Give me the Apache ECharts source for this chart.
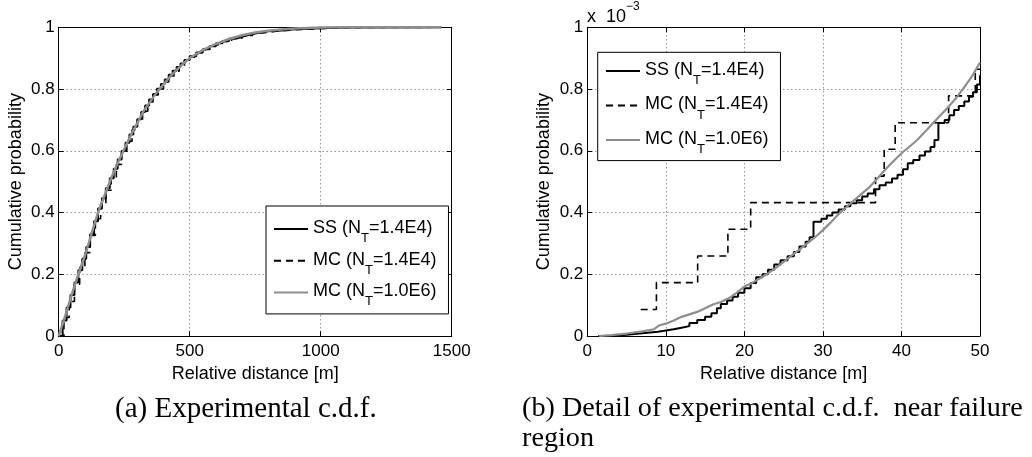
<!DOCTYPE html>
<html>
<head>
<meta charset="utf-8">
<script src="https://cdn.jsdelivr.net/npm/echarts@6/dist/echarts.min.js"></script>
<style>html,body{margin:0;padding:0;background:#fff}#c{width:1032px;height:457px}</style>
</head>
<body>
<div id="c"></div>
<script>
// ---------- data ----------
const seriesNames = ['SS (NT=1.4E4)', 'MC (NT=1.4E4)', 'MC (NT=1.0E6)'];
const captionA = '(a) Experimental c.d.f.';
const captionB = '(b) Detail of experimental c.d.f.  near failure\nregion';
const axisTitleX = 'Relative distance [m]';
const axisTitleY = 'Cumulative probability';
const leftXRange = [0, 1500, 500];
const rightXRange = [0, 50, 10];
const yRange = [0, 1, 0.2];

// panel (a): full c.d.f.  [distance m, probability]
const ssLeft = [[0,0],[15,0.05],[30,0.092],[45,0.133],[60,0.173],[75,0.213],[90,0.25],[105,0.288],[120,0.33],[135,0.372],[150,0.413],[165,0.446],[180,0.479],[195,0.511],[210,0.542],[225,0.572],[240,0.599],[255,0.626],[270,0.653],[285,0.678],[300,0.702],[315,0.726],[330,0.747],[345,0.766],[360,0.784],[375,0.801],[390,0.816],[405,0.831],[420,0.846],[435,0.859],[450,0.871],[465,0.883],[480,0.894],[500,0.906],[525,0.918],[550,0.929],[575,0.939],[600,0.948],[625,0.956],[650,0.963],[675,0.969],[700,0.975],[725,0.98],[750,0.984],[775,0.987],[800,0.99],[850,0.994],[900,0.997],[1000,0.999],[1100,1],[1460,1]];
const mc14Left = [[0,0],[20,0.06],[40,0.112],[60,0.168],[80,0.222],[100,0.27],[120,0.326],[140,0.38],[160,0.428],[180,0.472],[200,0.515],[220,0.556],[240,0.594],[260,0.631],[280,0.668],[300,0.698],[320,0.728],[340,0.758],[360,0.781],[380,0.8],[400,0.823],[420,0.842],[440,0.858],[460,0.874],[480,0.89],[500,0.903],[530,0.918],[560,0.93],[590,0.943],[620,0.953],[660,0.965],[700,0.974],[740,0.982],[780,0.987],[830,0.992],[900,0.996],[1000,0.999],[1100,1],[1460,1]];
const mc1e6Left = [[0,0],[25,0.065],[50,0.135],[75,0.2],[100,0.26],[125,0.33],[150,0.4],[175,0.455],[200,0.51],[225,0.56],[250,0.605],[275,0.65],[300,0.69],[325,0.73],[350,0.76],[375,0.79],[400,0.815],[425,0.84],[450,0.862],[475,0.882],[500,0.9],[550,0.926],[600,0.946],[650,0.962],[700,0.974],[750,0.983],[800,0.989],[850,0.993],[900,0.996],[1000,0.999],[1100,1],[1460,1]];

// panel (b): detail near failure region  [distance m, probability x 1e-3]
const ssRight = [[1.4,0],[3,0.004],[5,0.009],[7,0.014],[9,0.018],[10,0.022],[11,0.027],[12,0.032],[13,0.042],[14,0.052],[15,0.062],[15.8,0.074],[16.5,0.09],[17,0.104],[17.8,0.115],[18.5,0.127],[19.2,0.14],[20,0.155],[20.8,0.172],[21.5,0.19],[22.3,0.2],[23,0.215],[23.8,0.232],[24.6,0.245],[25.5,0.258],[26.3,0.272],[27,0.29],[27.8,0.305],[28.3,0.32],[28.8,0.37],[29.8,0.38],[30.5,0.39],[31.2,0.4],[32,0.41],[32.8,0.42],[33.5,0.43],[34.3,0.44],[35,0.452],[35.7,0.462],[36.5,0.475],[37.2,0.488],[38,0.497],[38.8,0.51],[39.5,0.522],[40.2,0.54],[40.8,0.56],[41.5,0.57],[42.3,0.585],[43,0.598],[43.7,0.612],[44.2,0.635],[44.7,0.69],[45.5,0.7],[46.1,0.715],[46.7,0.732],[47.3,0.745],[48,0.76],[48.6,0.775],[49.1,0.79],[49.6,0.815],[50,0.845]];
const mc14Right = [[6.8,0.086],[8.8,0.173],[14.05,0.259],[17.9,0.346],[20.8,0.432],[36.7,0.518],[37.8,0.605],[39.2,0.691],[46.0,0.778],[49.4,0.864],[50,0.864]];
const mc1e6Right = [[1.5,0],[3,0.003],[5,0.008],[7,0.015],[8.5,0.022],[9.2,0.035],[10,0.04],[11,0.05],[12,0.062],[13,0.07],[14,0.078],[15,0.09],[16,0.102],[17,0.11],[18,0.122],[19,0.14],[20,0.16],[21,0.172],[22,0.187],[23,0.203],[24,0.221],[25,0.24],[26,0.26],[27,0.28],[28,0.3],[29,0.32],[30,0.343],[31,0.368],[32,0.395],[33,0.418],[34,0.44],[35,0.462],[36,0.484],[37,0.512],[38,0.541],[39,0.567],[40,0.592],[41,0.613],[42,0.635],[43,0.662],[44,0.689],[45,0.716],[46,0.743],[47,0.772],[48,0.806],[49,0.842],[50,0.886]];

// ---------- styling ----------
const SANS = 'Liberation Sans';
const SERIF = 'Liberation Serif';
const GRAY = '#8e8e8e';

function legendFormatter(name) {
  const i = name.indexOf('NT');
  return '{a|' + name.slice(0, i + 1) + '}{s|T}{a|' + name.slice(i + 2) + '}';
}
const legendRich = {
  a: {fontFamily: SANS, fontSize: 18, color: '#000', lineHeight: 20, verticalAlign: 'top', padding: [0, 0, 10, 0]},
  s: {fontFamily: SANS, fontSize: 13, color: '#000', lineHeight: 14, verticalAlign: 'top', padding: [13, 0, 0, 0]}
};
const plainNum = v => String(v);

function mainX(gridIndex, r) {
  return {
    type: 'value', gridIndex, min: r[0], max: r[1], interval: r[2], position: 'bottom',
    axisLine: {show: true, onZero: false, lineStyle: {color: '#000', width: 1}},
    axisTick: {show: true, inside: true, length: 5, lineStyle: {color: '#000'}},
    axisLabel: {color: '#000', fontFamily: SANS, fontSize: 17, margin: 7, formatter: plainNum},
    splitLine: {show: true, showMinLine: false, showMaxLine: false, lineStyle: {color: '#666', type: [1, 3], width: 1}},
    name: axisTitleX, nameLocation: 'middle', nameGap: 24,
    nameTextStyle: {color: '#000', fontFamily: SANS, fontSize: 18}
  };
}
function sideX(gridIndex, r) {
  return {
    type: 'value', gridIndex, min: r[0], max: r[1], interval: r[2], position: 'top',
    axisLine: {show: true, onZero: false, lineStyle: {color: '#000', width: 1}},
    axisTick: {show: true, inside: true, length: 5, lineStyle: {color: '#000'}},
    axisLabel: {show: false}, splitLine: {show: false}
  };
}
function mainY(gridIndex) {
  return {
    type: 'value', gridIndex, min: yRange[0], max: yRange[1], interval: yRange[2], position: 'left',
    axisLine: {show: true, onZero: false, lineStyle: {color: '#000', width: 1}},
    axisTick: {show: true, inside: true, length: 5, lineStyle: {color: '#000'}},
    axisLabel: {color: '#000', fontFamily: SANS, fontSize: 17, margin: 4, formatter: plainNum},
    splitLine: {show: true, showMinLine: false, showMaxLine: false, lineStyle: {color: '#666', type: [1, 3], width: 1}},
    name: axisTitleY, nameLocation: 'middle', nameGap: 34,
    nameTextStyle: {color: '#000', fontFamily: SANS, fontSize: 18}
  };
}
function sideY(gridIndex) {
  return {
    type: 'value', gridIndex, min: yRange[0], max: yRange[1], interval: yRange[2], position: 'right',
    axisLine: {show: true, onZero: false, lineStyle: {color: '#000', width: 1}},
    axisTick: {show: true, inside: true, length: 5, lineStyle: {color: '#000'}},
    axisLabel: {show: false}, splitLine: {show: false}
  };
}
function line(name, xi, yi, data, opts) {
  return Object.assign({
    type: 'line', name, xAxisIndex: xi, yAxisIndex: yi, data, symbol: 'none', showSymbol: false,
    animation: false, silent: true
  }, opts);
}
const ssStyle = {step: 'end', lineStyle: {color: '#000', width: 2}, itemStyle: {color: '#000'}};
const mc14Style = {step: 'end', lineStyle: {color: '#000', width: 1.6, type: [7, 5]}, itemStyle: {color: '#000'}};
const mc1e6Style = {lineStyle: {color: GRAY, width: 2.2}, itemStyle: {color: GRAY}};
const legendCommon = {
  data: seriesNames, orient: 'vertical', itemWidth: 34, itemHeight: 14,
  backgroundColor: '#fff', borderColor: '#000', borderWidth: 1, borderRadius: 0,
  selectedMode: false, formatter: legendFormatter, textStyle: {rich: legendRich},
  itemStyle: {opacity: 0, borderWidth: 0}
};

const chart = echarts.init(document.getElementById('c'), null, {renderer: 'canvas'});
chart.setOption({
  animation: false,
  backgroundColor: '#fff',
  title: [
    {text: captionA, left: 115, top: 394, padding: 0,
     textStyle: {fontFamily: SERIF, fontSize: 29, fontWeight: 'normal', color: '#000', lineHeight: 30}},
    {text: captionB, left: 522, top: 394, padding: 0,
     textStyle: {fontFamily: SERIF, fontSize: 28.2, fontWeight: 'normal', color: '#000', lineHeight: 30}},
    {text: '{a|x  10}{b|\u22123}', left: 587, top: 1, padding: 0,
     textStyle: {fontWeight: 'normal', rich: {
       a: {fontFamily: SANS, fontSize: 18, fontWeight: 'normal', color: '#000', lineHeight: 18, verticalAlign: 'top', padding: [7, 0, 0, 0]},
       b: {fontFamily: SANS, fontSize: 12, fontWeight: 'normal', color: '#000', lineHeight: 12, verticalAlign: 'top'}
     }}}
  ],
  grid: [
    {left: 58.7, top: 27.3, width: 393, height: 308.7},
    {left: 587.3, top: 27.3, width: 392.7, height: 308.7}
  ],
  xAxis: [mainX(0, leftXRange), mainX(1, rightXRange), sideX(0, leftXRange), sideX(1, rightXRange)],
  yAxis: [mainY(0), mainY(1), sideY(0), sideY(1)],
  legend: [
    Object.assign({left: 266, top: 206, padding: [13, 12, 3.5, 7], itemGap: 3.7}, legendCommon),
    Object.assign({left: 597.7, top: 52.3, padding: [8.7, 12, 2.6, 7.3], itemGap: 6.5}, legendCommon)
  ],
  series: [
    line(seriesNames[0], 0, 0, ssLeft, ssStyle),
    line(seriesNames[1], 0, 0, mc14Left, mc14Style),
    line(seriesNames[2], 0, 0, mc1e6Left, {lineStyle: {color: GRAY, width: 2.5}, itemStyle: {color: GRAY}}),
    line(seriesNames[0], 1, 1, ssRight, ssStyle),
    line(seriesNames[1], 1, 1, mc14Right, mc14Style),
    line(seriesNames[2], 1, 1, mc1e6Right, mc1e6Style)
  ]
});
</script>
</body>
</html>
